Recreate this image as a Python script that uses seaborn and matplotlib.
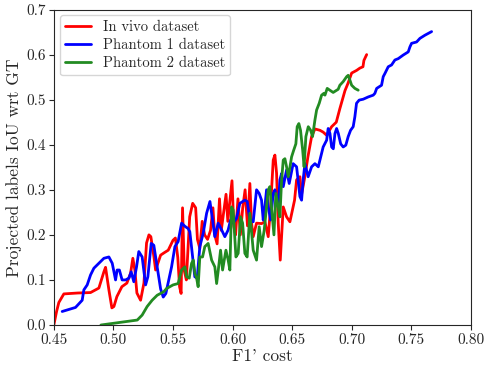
import numpy as np
import pandas as pd
import matplotlib
matplotlib.use("Agg")
import matplotlib.pyplot as plt
import seaborn as sns

# In vivo dataset (F1' cost, IoU)
vivo_x = [0.4500, 0.4523, 0.4542, 0.4584, 0.4700, 0.4808, 0.4850, 0.4878, 0.4920, 0.4934,
          0.4962, 0.4987, 0.5004, 0.5029, 0.5071, 0.5113, 0.5144, 0.5163, 0.5180, 0.5197,
          0.5228, 0.5256, 0.5278, 0.5298, 0.5314, 0.5340, 0.5354, 0.5382, 0.5396, 0.5424,
          0.5460, 0.5500, 0.5520, 0.5540, 0.5555, 0.5568, 0.5580, 0.5595, 0.5612, 0.5640,
          0.5665, 0.5690, 0.5705, 0.5725, 0.5745, 0.5765, 0.5790, 0.5815, 0.5835, 0.5850,
          0.5870, 0.5890, 0.5905, 0.5925, 0.5945, 0.5960, 0.5975, 0.5995, 0.6010, 0.6025,
          0.6045, 0.6065, 0.6085, 0.6105, 0.6125, 0.6145, 0.6159, 0.6173, 0.6201, 0.6243,
          0.6271, 0.6299, 0.6319, 0.6341, 0.6355, 0.6369, 0.6383, 0.6400, 0.6425, 0.6453,
          0.6481, 0.6520, 0.6537, 0.6565, 0.6579, 0.6607, 0.6632, 0.6663, 0.6691, 0.6733,
          0.6760, 0.6789, 0.6831, 0.6870, 0.6900, 0.6943, 0.6968, 0.6999, 0.7041, 0.7068,
          0.7094, 0.7102, 0.7125]
vivo_y = [0.000, 0.030, 0.050, 0.069, 0.071, 0.072, 0.078, 0.082, 0.118, 0.128,
          0.078, 0.038, 0.041, 0.063, 0.085, 0.093, 0.115, 0.148, 0.122, 0.071,
          0.055, 0.093, 0.182, 0.200, 0.196, 0.151, 0.122, 0.144, 0.155, 0.160,
          0.166, 0.188, 0.193, 0.150, 0.085, 0.070, 0.260, 0.120, 0.100, 0.240,
          0.270, 0.260, 0.190, 0.170, 0.230, 0.200, 0.190, 0.210, 0.260, 0.200,
          0.180, 0.280, 0.210, 0.250, 0.290, 0.230, 0.270, 0.320, 0.220, 0.200,
          0.280, 0.200, 0.260, 0.300, 0.220, 0.314, 0.226, 0.196, 0.226, 0.225,
          0.229, 0.196, 0.262, 0.366, 0.377, 0.337, 0.226, 0.144, 0.262, 0.240,
          0.229, 0.277, 0.322, 0.329, 0.290, 0.330, 0.373, 0.418, 0.435, 0.432,
          0.428, 0.421, 0.440, 0.450, 0.480, 0.520, 0.536, 0.559, 0.565, 0.570,
          0.573, 0.587, 0.600]

# Phantom 1 dataset
ph1_x = [0.4570, 0.4682, 0.4738, 0.4752, 0.4780, 0.4808, 0.4836, 0.4878, 0.4920, 0.4962,
         0.4990, 0.5018, 0.5031, 0.5050, 0.5073, 0.5102, 0.5130, 0.5149, 0.5171, 0.5194,
         0.5213, 0.5241, 0.5270, 0.5289, 0.5317, 0.5339, 0.5367, 0.5396, 0.5418, 0.5440,
         0.5488, 0.5516, 0.5543, 0.5572, 0.5600, 0.5627, 0.5641, 0.5655, 0.5683, 0.5703,
         0.5725, 0.5753, 0.5782, 0.5810, 0.5832, 0.5851, 0.5879, 0.5908, 0.5935, 0.5963,
         0.5983, 0.6005, 0.6033, 0.6061, 0.6103, 0.6123, 0.6145, 0.6173, 0.6201, 0.6223,
         0.6243, 0.6257, 0.6271, 0.6285, 0.6299, 0.6319, 0.6341, 0.6355, 0.6383, 0.6397,
         0.6411, 0.6425, 0.6453, 0.6475, 0.6508, 0.6537, 0.6565, 0.6579, 0.6592, 0.6607,
         0.6634, 0.6663, 0.6691, 0.6719, 0.6747, 0.6760, 0.6789, 0.6802, 0.6817, 0.6831,
         0.6845, 0.6859, 0.6873, 0.6887, 0.6907, 0.6928, 0.6950, 0.6970, 0.6990, 0.7012,
         0.7026, 0.7040, 0.7062, 0.7096, 0.7138, 0.7180, 0.7194, 0.7209, 0.7250, 0.7264,
         0.7278, 0.7306, 0.7334, 0.7362, 0.7390, 0.7432, 0.7474, 0.7488, 0.7502, 0.7544,
         0.7572, 0.7614, 0.7642, 0.7670]
ph1_y = [0.030, 0.039, 0.055, 0.078, 0.089, 0.111, 0.126, 0.137, 0.148, 0.151,
         0.137, 0.100, 0.122, 0.122, 0.100, 0.100, 0.104, 0.118, 0.096, 0.129,
         0.163, 0.151, 0.089, 0.107, 0.181, 0.177, 0.129, 0.080, 0.062, 0.070,
         0.129, 0.174, 0.185, 0.226, 0.219, 0.214, 0.207, 0.174, 0.107, 0.104,
         0.174, 0.203, 0.248, 0.274, 0.233, 0.196, 0.226, 0.211, 0.196, 0.211,
         0.233, 0.226, 0.237, 0.270, 0.277, 0.274, 0.233, 0.229, 0.300, 0.292,
         0.277, 0.233, 0.262, 0.300, 0.262, 0.233, 0.292, 0.300, 0.262, 0.322,
         0.336, 0.307, 0.344, 0.314, 0.358, 0.351, 0.285, 0.277, 0.322, 0.358,
         0.329, 0.351, 0.358, 0.351, 0.381, 0.395, 0.410, 0.436, 0.425, 0.395,
         0.391, 0.425, 0.436, 0.425, 0.402, 0.395, 0.399, 0.418, 0.432, 0.440,
         0.462, 0.492, 0.499, 0.501, 0.506, 0.510, 0.514, 0.525, 0.532, 0.551,
         0.558, 0.573, 0.577, 0.588, 0.591, 0.599, 0.606, 0.617, 0.625, 0.628,
         0.636, 0.643, 0.647, 0.651]

# Phantom 2 dataset
ph2_x = [0.4895, 0.5200, 0.5241, 0.5283, 0.5325, 0.5367, 0.5423, 0.5446, 0.5501, 0.5543,
         0.5572, 0.5600, 0.5614, 0.5636, 0.5656, 0.5670, 0.5684, 0.5698, 0.5711, 0.5725,
         0.5748, 0.5767, 0.5795, 0.5824, 0.5851, 0.5866, 0.5880, 0.5899, 0.5916, 0.5944,
         0.5963, 0.5977, 0.5991, 0.6005, 0.6028, 0.6047, 0.6067, 0.6084, 0.6103, 0.6122,
         0.6145, 0.6173, 0.6201, 0.6223, 0.6243, 0.6265, 0.6285, 0.6299, 0.6313, 0.6327,
         0.6347, 0.6363, 0.6383, 0.6397, 0.6411, 0.6425, 0.6439, 0.6453, 0.6467, 0.6481,
         0.6495, 0.6513, 0.6531, 0.6542, 0.6556, 0.6570, 0.6588, 0.6600, 0.6615, 0.6635,
         0.6655, 0.6671, 0.6691, 0.6705, 0.6727, 0.6747, 0.6766, 0.6775, 0.6794, 0.6816,
         0.6844, 0.6886, 0.6900, 0.6928, 0.6957, 0.6970, 0.6985, 0.6999, 0.7026, 0.7054]
ph2_y = [0.000, 0.011, 0.022, 0.041, 0.055, 0.066, 0.074, 0.081, 0.089, 0.092,
         0.122, 0.129, 0.107, 0.104, 0.137, 0.144, 0.114, 0.104, 0.085, 0.151,
         0.151, 0.174, 0.181, 0.144, 0.129, 0.092, 0.122, 0.166, 0.122, 0.166,
         0.144, 0.122, 0.262, 0.255, 0.151, 0.159, 0.240, 0.226, 0.159, 0.151,
         0.248, 0.166, 0.144, 0.218, 0.174, 0.210, 0.262, 0.300, 0.307, 0.260,
         0.200, 0.292, 0.262, 0.240, 0.320, 0.366, 0.369, 0.351, 0.329, 0.350,
         0.373, 0.388, 0.402, 0.440, 0.447, 0.432, 0.388, 0.351, 0.418, 0.440,
         0.432, 0.418, 0.455, 0.477, 0.492, 0.510, 0.514, 0.510, 0.525, 0.521,
         0.516, 0.523, 0.532, 0.540, 0.551, 0.554, 0.543, 0.532, 0.525, 0.521]

sns.set_style("ticks")
plt.rcParams['font.family'] = 'serif'
plt.rcParams['font.serif'] = ['cmr10', 'DejaVu Serif']
plt.rcParams['axes.formatter.use_mathtext'] = True

fig = plt.figure(figsize=(4.85, 3.66), dpi=100)
ax = fig.add_axes([0.111, 0.112, 0.860, 0.862])

sns.lineplot(x=vivo_x, y=vivo_y, color='red', lw=2, label='In vivo dataset',
             estimator=None, sort=False, ax=ax)
sns.lineplot(x=ph1_x, y=ph1_y, color='blue', lw=2, label='Phantom 1 dataset',
             estimator=None, sort=False, ax=ax)
sns.lineplot(x=ph2_x, y=ph2_y, color='forestgreen', lw=2, label='Phantom 2 dataset',
             estimator=None, sort=False, ax=ax)

ax.set_xlim(0.45, 0.80)
ax.set_ylim(0.0, 0.7)
ax.set_xticks(np.arange(0.45, 0.801, 0.05))
ax.set_yticks(np.arange(0.0, 0.701, 0.1))
ax.xaxis.set_major_formatter(matplotlib.ticker.FormatStrFormatter('%.2f'))
ax.yaxis.set_major_formatter(matplotlib.ticker.FormatStrFormatter('%.1f'))
ax.tick_params(labelsize=11, pad=2.5)
ax.set_xlabel("F1' cost", fontsize=12.5, labelpad=1)
ax.set_ylabel("Projected labels IoU wrt GT", fontsize=12.5, labelpad=3)
ax.legend(loc='upper left', fontsize=10.5, labelspacing=0.3, handlelength=1.8,
          borderaxespad=0.4, borderpad=0.35)

fig.savefig("out.png", dpi=100)
